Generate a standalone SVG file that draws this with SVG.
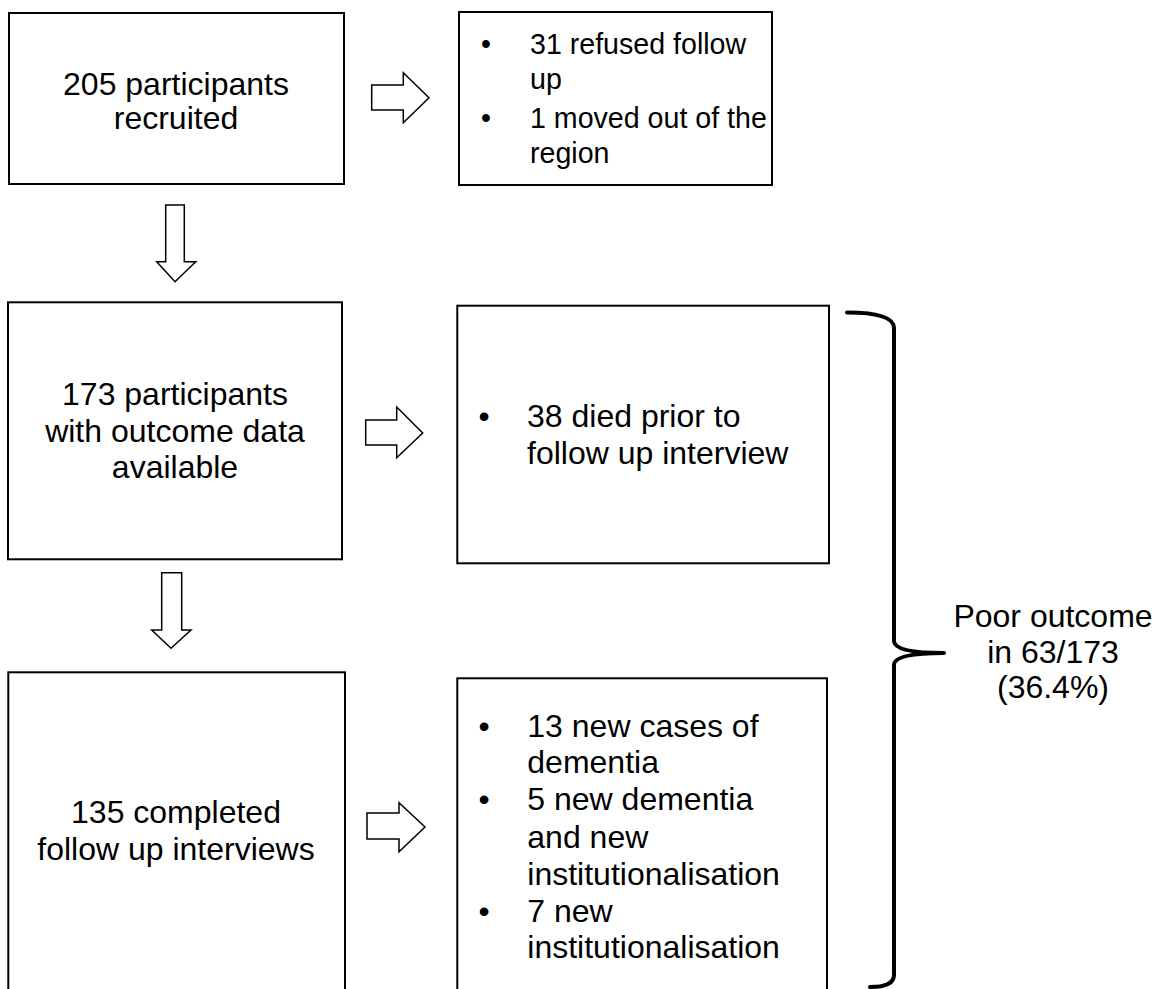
<svg xmlns="http://www.w3.org/2000/svg" width="1159" height="989" viewBox="0 0 1159 989">
<style>
.box{fill:#fff;stroke:#000;stroke-width:2}
.arr{fill:#fff;stroke:#000;stroke-width:1.5;stroke-linejoin:miter}
.t{font-family:"Liberation Sans",Arial,sans-serif;font-size:32px;fill:#000}
.s{font-size:28.6px}
.c{text-anchor:middle}
.b{text-anchor:middle}
.brace{fill:none;stroke:#000;stroke-width:4;stroke-linecap:round;stroke-linejoin:round}
</style>
<rect width="1159" height="989" fill="#fff"/>
<g id="connectors">
<path class="arr" d="M371.7 85 H403.3 V72.7 L429 97.7 L403.3 122.7 V110 H371.7 Z"/>
<path class="arr" d="M365.7 420 H396.7 V407 L422.7 433 L396.7 457.7 V445 H365.7 Z"/>
<path class="arr" d="M367 813 H399 V802.7 L425 827 L399 851.7 V839 H367 Z"/>
<path class="arr" d="M165.7 205 H184.3 V261.7 H195.7 L175 281.7 L156.7 261.7 H165.7 Z"/>
<path class="arr" d="M161.7 572.7 H181.7 V630 H191 L171 648.3 L151.7 630 H161.7 Z"/>
<path class="brace" d="M847 312.5 Q894 312.5 894 328 L894 641 Q894 653 944 653 Q894 653 894 665 L894 975 Q894 987 870 987"/>
</g>
<g id="n1">
<rect class="box" x="9" y="13" width="335" height="171"/>
<text class="t c" x="176" y="95">205 participants</text>
<text class="t c" x="176" y="129">recruited</text>
</g>
<g id="n2">
<rect class="box" x="459" y="12" width="313" height="173"/>
<text class="t s b" x="486" y="54.3">•</text>
<text class="t s" x="530" y="54.3">31 refused follow</text>
<text class="t s" x="530" y="89.3">up</text>
<text class="t s b" x="486" y="128.3">•</text>
<text class="t s" x="530" y="128.3">1 moved out of the</text>
<text class="t s" x="530" y="163.3">region</text>
</g>
<g id="n3">
<rect class="box" x="8" y="302.3" width="334" height="257"/>
<text class="t c" x="175" y="405">173 participants</text>
<text class="t c" x="175" y="441.7">with outcome data</text>
<text class="t c" x="175" y="478.3">available</text>
</g>
<g id="n4">
<rect class="box" x="457.3" y="305.7" width="371.7" height="257.6"/>
<text class="t b" x="484" y="427.3">•</text>
<text class="t" x="527" y="427.3">38 died prior to</text>
<text class="t" x="527" y="464">follow up interview</text>
</g>
<g id="n5">
<rect class="box" x="8.3" y="672.3" width="336.7" height="330"/>
<text class="t c" x="176" y="822.7">135 completed</text>
<text class="t c" x="176" y="860">follow up interviews</text>
</g>
<g id="n6">
<rect class="box" x="457.3" y="678.3" width="369.7" height="330"/>
<text class="t b" x="484" y="736.7">•</text>
<text class="t" x="527.3" y="736.7">13 new cases of</text>
<text class="t" x="527.3" y="773.3">dementia</text>
<text class="t b" x="484" y="810">•</text>
<text class="t" x="527.3" y="810">5 new dementia</text>
<text class="t" x="527.3" y="848.3">and new</text>
<text class="t" x="527.3" y="885">institutionalisation</text>
<text class="t b" x="484" y="921.7">•</text>
<text class="t" x="527.3" y="921.7">7 new</text>
<text class="t" x="527.3" y="958.3">institutionalisation</text>
</g>
<g id="n7">
<text class="t c" x="1053" y="626.7">Poor outcome</text>
<text class="t c" x="1053" y="662.7">in 63/173</text>
<text class="t c" x="1053" y="698.3">(36.4%)</text>
</g>
</svg>
